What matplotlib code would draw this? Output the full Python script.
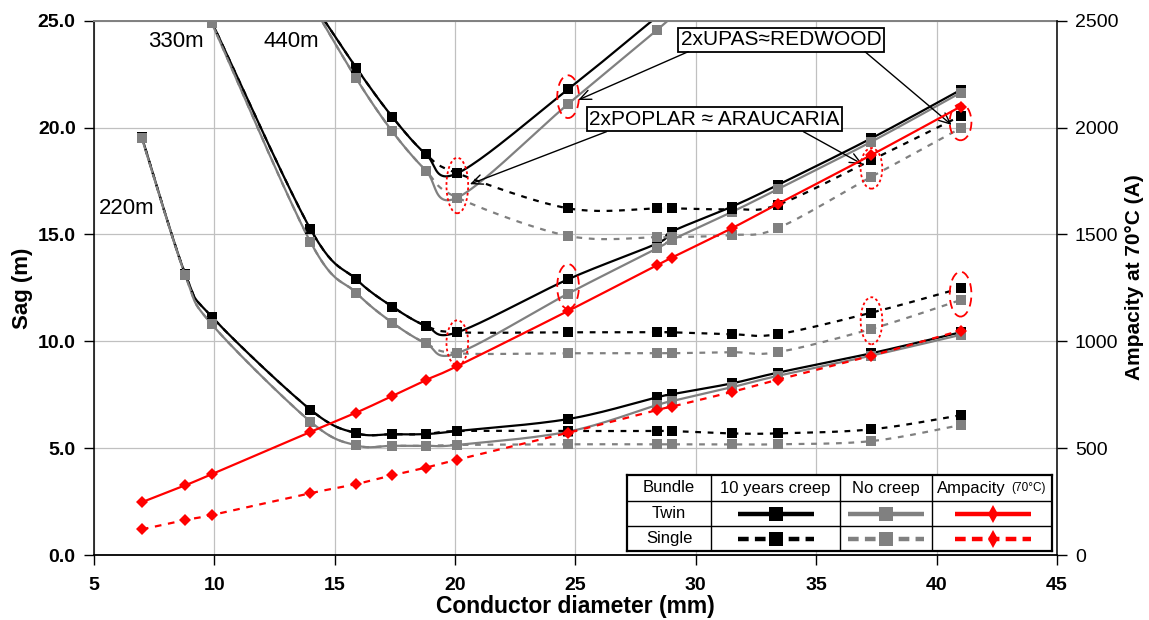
import numpy as np
import matplotlib.pyplot as plt
from matplotlib.patches import Ellipse

plt.rcParams['font.family'] = ['Liberation Sans', 'DejaVu Sans']

nan = np.nan
# conductor diameters (mm)
diameter = [7.0, 8.8, 9.9, 14.0, 15.9, 17.4, 18.8, 20.1, 24.7, 28.4, 29.0, 31.5, 33.4, 37.3, 41.0]

# sag (m), span 220 m
sag220_twin_creep = [19.55, 13.15, 11.15, 6.8, 5.7, 5.65, 5.66, 5.8, 6.36, 7.38, 7.52, 8.03, 8.53, 9.44, 10.42]
sag220_twin_nocreep = [19.5, 13.1, 10.8, 6.24, 5.13, 5.11, 5.11, 5.15, 5.77, 7.02, 7.2, 7.85, 8.38, 9.33, 10.3]
sag220_single_creep = [19.55, 13.15, 11.15, 6.8, 5.7, 5.65, 5.66, 5.8, 5.8, 5.8, 5.8, 5.69, 5.69, 5.88, 6.54]
sag220_single_nocreep = [19.5, 13.1, 10.8, 6.24, 5.13, 5.11, 5.11, 5.15, 5.18, 5.18, 5.18, 5.18, 5.18, 5.33, 6.08]
# span 330 m
sag330_twin_creep = [nan, nan, 24.95, 15.25, 12.9, 11.62, 10.72, 10.42, 12.9, 14.58, 15.13, 16.3, 17.31, 19.5, 21.76]
sag330_twin_nocreep = [nan, nan, 24.9, 14.65, 12.27, 10.87, 9.9, 9.44, 12.23, 14.35, 14.74, 16.05, 17.11, 19.34, 21.63]
sag330_single_creep = [nan, nan, 24.95, 15.25, 12.9, 11.62, 10.72, 10.42, 10.42, 10.42, 10.42, 10.33, 10.33, 11.34, 12.48]
sag330_single_nocreep = [nan, nan, 24.9, 14.65, 12.27, 10.87, 9.9, 9.44, 9.44, 9.44, 9.44, 9.49, 9.49, 10.58, 11.93]
# span 440 m
sag440_twin_creep = [nan, nan, nan, 26.0, 22.8, 20.5, 18.75, 17.86, 21.79, 25.2, 25.75, nan, nan, nan, nan]
sag440_twin_nocreep = [nan, nan, nan, 25.9, 22.3, 19.82, 17.98, 16.72, 21.1, 24.57, 25.2, nan, nan, nan, nan]
sag440_single_creep = [nan, nan, nan, 26.0, 22.8, 20.5, 18.75, 17.86, 16.22, 16.22, 16.22, 16.18, 16.38, 18.48, 20.54]
sag440_single_nocreep = [nan, nan, nan, 25.9, 22.3, 19.82, 17.98, 16.72, 14.93, 14.87, 14.87, 14.97, 15.29, 17.7, 19.97]

# ampacity at 70 C (A)
amp_twin = [247, 326, 378, 576, 666, 744, 819, 884, 1142, 1357, 1391, 1529, 1642, 1872, 2098]
amp_single = [120, 164, 187, 289, 332, 373, 409, 446, 572, 679, 694, 763, 820, 933, 1050]

diam_ticks = [5, 10, 15, 20, 25, 30, 35, 40, 45]
sag_ticks = [0, 5, 10, 15, 20, 25]
amp_ticks = [0, 500, 1000, 1500, 2000, 2500]

BLACK, GREY, RED = '#000000', '#808080', '#ff0000'
DASH = (0, (2.6, 3.0))


def smooth(x, y, n=25):
    # excel style smoothed line: bezier through the points, tangents from neighbours / 6
    x = np.asarray(x, float)
    y = np.asarray(y, float)
    ok = ~np.isnan(y)
    p = np.column_stack([x[ok], y[ok]])
    t = np.linspace(0, 1, n)[1:, None]
    out = [p[0]]
    for i in range(len(p) - 1):
        p0, p1 = p[max(i - 1, 0)], p[i]
        p2, p3 = p[i + 1], p[min(i + 2, len(p) - 1)]
        c1 = p1 + (p2 - p0) / 6
        c2 = p2 - (p3 - p1) / 6
        out.extend((1 - t) ** 3 * p1 + 3 * (1 - t) ** 2 * t * c1 + 3 * (1 - t) * t ** 2 * c2 + t ** 3 * p2)
    out = np.array(out)
    return out[:, 0], out[:, 1]


W, H = 1149, 620
fig = plt.figure(figsize=(W / 100, H / 100), dpi=100)
ax = fig.add_axes([93.7 / W, 1 - 555 / H, 963.2 / W, 534.3 / H])
ax2 = ax.twinx()

series = [
    (sag220_twin_creep, BLACK, '-'), (sag220_twin_nocreep, GREY, '-'),
    (sag330_twin_creep, BLACK, '-'), (sag330_twin_nocreep, GREY, '-'),
    (sag440_twin_creep, BLACK, '-'), (sag440_twin_nocreep, GREY, '-'),
    (sag220_single_creep, BLACK, DASH), (sag220_single_nocreep, GREY, DASH),
    (sag330_single_creep, BLACK, DASH), (sag330_single_nocreep, GREY, DASH),
    (sag440_single_creep, BLACK, DASH), (sag440_single_nocreep, GREY, DASH),
]
for y, c, ls in series:
    xs, ys = smooth(diameter, y)
    ax.plot(xs, ys, color=c, lw=1.6, ls=ls)
    ax.plot(diameter, y, ls='none', marker='s', ms=7, mfc=c, mec=c, mew=0)

for y, ls in ((amp_twin, '-'), (amp_single, (0, (3, 3)))):
    xs, ys = smooth(diameter, y)
    ax2.plot(xs, ys, color=RED, lw=1.6, ls=ls)
    ax2.plot(diameter, y, ls='none', marker='D', ms=6, mfc=RED, mec=RED, mew=0)

ax.set_xlim(5, 45)
ax.set_ylim(0, 25)
ax2.set_ylim(0, 2500)
ax.grid(True, color='#c0c0c0', lw=0.9)
ax.set_axisbelow(True)

ax.tick_params(axis='x', direction='out', length=7, width=1, pad=9, labelsize=14)
ax.tick_params(axis='y', direction='out', length=7, width=1, pad=6, labelsize=14)
ax2.tick_params(axis='y', direction='out', length=7, width=1, pad=6, labelsize=14)
ax.set_xticks(diam_ticks, [str(v) for v in diam_ticks], fontweight='bold', fontsize=14)
ax.set_yticks(sag_ticks, ['%.1f' % v for v in sag_ticks], fontweight='bold', fontsize=14)
ax2.set_yticks(amp_ticks, [str(v) for v in amp_ticks], fontsize=14)

ax.spines['right'].set_visible(False)
ax.spines['top'].set_color(GREY)
ax.spines['top'].set_linewidth(1.4)
ax.spines['left'].set_linewidth(1.1)
ax.spines['bottom'].set_linewidth(1.3)
for s in ('top', 'left', 'bottom'):
    ax2.spines[s].set_visible(False)
ax2.spines['right'].set_linewidth(1.1)

ax.set_xlabel('Conductor diameter (mm)', fontsize=16.5, fontweight='bold')
ax.xaxis.set_label_coords(0.5, -0.075)
ax.set_ylabel('Sag (m)', fontsize=16, fontweight='bold')
ax.yaxis.set_label_coords(-0.063, 0.5)
ax2.set_ylabel('Ampacity at 70°C (A)', fontsize=15, fontweight='bold')
ax2.yaxis.set_label_coords(1.071, 0.52)

# span labels
ax.text(5.23, 16.22, '220m', fontsize=16, va='center', ha='left')
ax.text(7.28, 24.04, '330m', fontsize=16, va='center', ha='left')
ax.text(12.06, 24.04, '440m', fontsize=16, va='center', ha='left')

# equivalence ellipses: (column index, curve pair, height, style)
ell = [
    (7, sag440_twin_creep, sag440_twin_nocreep, 2.6, (0, (1.5, 1.5))),
    (8, sag440_twin_creep, sag440_twin_nocreep, 2.0, (0, (5, 3))),
    (7, sag330_twin_creep, sag330_twin_nocreep, 2.1, (0, (1.5, 1.5))),
    (8, sag330_twin_creep, sag330_twin_nocreep, 2.1, (0, (5, 3))),
    (13, sag440_single_creep, sag440_single_nocreep, 1.9, (0, (1.5, 1.5))),
    (14, sag440_single_creep, sag440_single_nocreep, 1.7, (0, (5, 3))),
    (13, sag330_single_creep, sag330_single_nocreep, 2.2, (0, (1.5, 1.5))),
    (14, sag330_single_creep, sag330_single_nocreep, 2.1, (0, (5, 3))),
]
for i, a, b, h, ls in ell:
    ax.add_patch(Ellipse((diameter[i], (a[i] + b[i]) / 2), 0.9, h, fill=False,
                         edgecolor=RED, lw=1.3, ls=ls, zorder=5))

box = dict(boxstyle='square,pad=0.12', fc='white', ec='black', lw=1.3)
ax.text(33.54, 24.11, '2xUPAS≈REDWOOD', fontsize=15, ha='center', va='center', bbox=box, zorder=6)
ax.text(30.78, 20.39, '2xPOPLAR ≈ ARAUCARIA', fontsize=15, ha='center', va='center', bbox=box, zorder=6)
arrow = dict(arrowstyle='->,head_length=0.8,head_width=0.35', lw=1, color='black', shrinkA=0, shrinkB=0)
for tip, start in (((25.12, 21.29), (29.69, 23.55)), ((40.63, 20.12), (37.03, 23.55)),
                   ((20.62, 17.35), (26.3, 19.81)), ((36.93, 18.28), (34.47, 19.81))):
    ax.annotate('', xy=tip, xytext=start, arrowprops=arrow, zorder=6)

# legend table
lax = fig.add_axes([627 / W, 1 - 551 / H, 425 / W, 76 / H])
lax.set_xlim(627, 1052)
lax.set_ylim(551, 475)
lax.set_xticks([])
lax.set_yticks([])
for s in lax.spines.values():
    s.set_linewidth(1.6)
for xv in (711, 840, 932):
    lax.axvline(xv, color='black', lw=1)
for yv in (501, 526):
    lax.axhline(yv, color='black', lw=1)
rows = [488, 513.5, 538.5]
lax.text(669, rows[0], 'Bundle', fontsize=12, ha='center', va='center')
lax.text(775.5, rows[0], '10 years creep', fontsize=12, ha='center', va='center')
lax.text(886, rows[0], 'No creep', fontsize=12, ha='center', va='center')
lax.text(1005.6, rows[0], 'Ampacity', fontsize=12, ha='right', va='center')
lax.text(1011, rows[0] + 0.5, '(70°C)', fontsize=8.5, ha='left', va='center')
lax.text(669, rows[1], 'Twin', fontsize=12, ha='center', va='center')
lax.text(669, rows[2], 'Single', fontsize=12, ha='center', va='center')
for cx, c, mk, ms in ((775.5, BLACK, 's', 9.5), (886, GREY, 's', 9.5), (993, RED, 'd', 9)):
    for ry, ls in ((rows[1], '-'), (rows[2], (0, (2.4, 1.4)))):
        lax.plot([cx - 38, cx + 38], [ry, ry], color=c, lw=3.2, ls=ls, solid_capstyle='butt')
        lax.plot([cx], [ry], marker=mk, ms=ms, color=c, mew=0)

fig.savefig('out.png', dpi=100)
